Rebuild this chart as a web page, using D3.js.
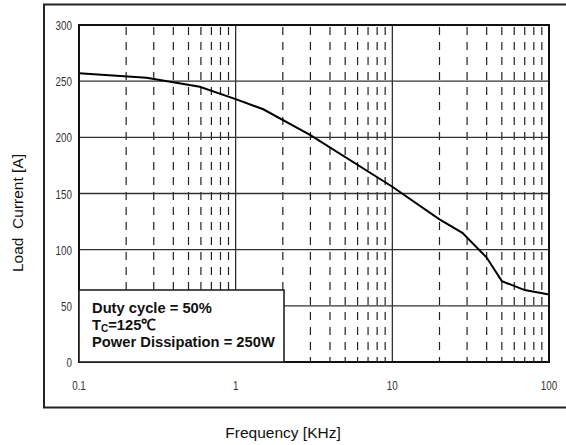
<!DOCTYPE html>
<html>
<head>
<meta charset="utf-8">
<script src="https://cdn.jsdelivr.net/npm/d3@7"></script>
<style>
  body { margin: 0; background: #fff; }
  .tick-label { font-family: "Liberation Sans", Arial, sans-serif; font-size: 12px; fill: #333; }
  .title { font-family: "Liberation Sans", Arial, sans-serif; font-size: 15.5px; fill: #111; }
  .legend { font-family: "Liberation Sans", Arial, sans-serif; font-size: 15.5px; font-weight: bold; fill: #111; }
</style>
</head>
<body>
<svg id="chart" width="566" height="445"></svg>
<script>
var freqs = [0.1, 0.27, 0.59, 1, 1.5, 3, 10, 20, 28, 40, 50, 70, 100],
    current = [257, 253, 245, 234, 225, 202, 156, 127, 115, 93, 72, 64, 60];
var yTicks = [0, 50, 100, 150, 200, 250, 300],
    xTicks = [0.1, 1, 10, 100],
    xTickLabels = ["0.1", "1", "10", "100"];
var legendLines = ["Duty cycle = 50%", "T_C=125℃", "Power Dissipation = 250W"];

var svg = d3.select("#chart");
var plotL = 79, plotR = 549, plotT = 25, plotB = 362;

var x = d3.scaleLog().domain([0.1, 100]).range([plotL, plotR]);
var y = d3.scaleLinear().domain([0, 300]).range([plotB, plotT]);

// outer frame
svg.append("rect")
  .attr("x", 44).attr("y", 4.5)
  .attr("width", 540).attr("height", 403)
  .attr("fill", "none").attr("stroke", "#222").attr("stroke-width", 2);

// minor dashed verticals
var minor = [];
[0.1, 1, 10].forEach(function(d) {
  for (var k = 2; k <= 9; k++) minor.push(d * k);
});
svg.selectAll(".minor").data(minor).enter().append("line")
  .attr("class", "minor")
  .attr("x1", function(d) { return x(d); })
  .attr("x2", function(d) { return x(d); })
  .attr("y1", plotT).attr("y2", plotB)
  .attr("stroke", "#222").attr("stroke-width", 1.2)
  .attr("stroke-dasharray", "8,7")
  .attr("stroke-dashoffset", -2);

// major verticals
svg.selectAll(".major").data([1, 10]).enter().append("line")
  .attr("x1", function(d) { return x(d); })
  .attr("x2", function(d) { return x(d); })
  .attr("y1", plotT).attr("y2", plotB)
  .attr("stroke", "#222").attr("stroke-width", 1.2);

// horizontal grid
svg.selectAll(".hgrid").data(yTicks.slice(1, -1)).enter().append("line")
  .attr("x1", plotL).attr("x2", plotR)
  .attr("y1", function(d) { return y(d); })
  .attr("y2", function(d) { return y(d); })
  .attr("stroke", "#333").attr("stroke-width", 1.3);

// curve
var line = d3.line()
  .x(function(d, i) { return x(freqs[i]); })
  .y(function(d) { return y(d); });
svg.append("path")
  .datum(current)
  .attr("d", line)
  .attr("fill", "none").attr("stroke", "#000").attr("stroke-width", 2);

// plot border
svg.append("rect")
  .attr("x", plotL).attr("y", plotT)
  .attr("width", plotR - plotL).attr("height", plotB - plotT)
  .attr("fill", "none").attr("stroke", "#111").attr("stroke-width", 2);

// legend box
var lg = svg.append("g");
lg.append("rect")
  .attr("x", plotL).attr("y", 290)
  .attr("width", 205).attr("height", plotB - 290)
  .attr("fill", "#fff").attr("stroke", "#222").attr("stroke-width", 1.6);
legendLines.forEach(function(s, i) {
  var t = lg.append("text").attr("class", "legend")
    .attr("transform", "translate(92," + (313 + i * 16.8) + ") scale(0.95,1)");
  if (s.indexOf("T_C") === 0) {
    t.append("tspan").text("T");
    t.append("tspan").attr("font-size", 10.5).attr("dy", 2).text("C");
    t.append("tspan").attr("dy", -2).text(s.slice(3));
  } else {
    t.text(s);
  }
});

// y tick labels
svg.selectAll(".ylab").data(yTicks).enter().append("text")
  .attr("class", "tick-label")
  .attr("transform", function(d) { return "translate(72," + (y(d) + 5) + ") scale(0.82,1)"; })
  .attr("text-anchor", "end")
  .text(function(d) { return d; });

// x tick labels
svg.selectAll(".xlab").data(xTicks).enter().append("text")
  .attr("class", "tick-label")
  .attr("transform", function(d) { return "translate(" + x(d) + ",390) scale(0.82,1)"; })
  .attr("text-anchor", "middle")
  .text(function(d, i) { return xTickLabels[i]; });

// axis titles
svg.append("text").attr("class", "title")
  .attr("x", 283).attr("y", 438)
  .attr("text-anchor", "middle")
  .text("Frequency [KHz]");
svg.append("text").attr("class", "title")
  .attr("transform", "translate(23,213) rotate(-90)")
  .attr("text-anchor", "middle")
  .attr("xml:space", "preserve")
  .text("Load  Current [A]");
</script>
</body>
</html>
